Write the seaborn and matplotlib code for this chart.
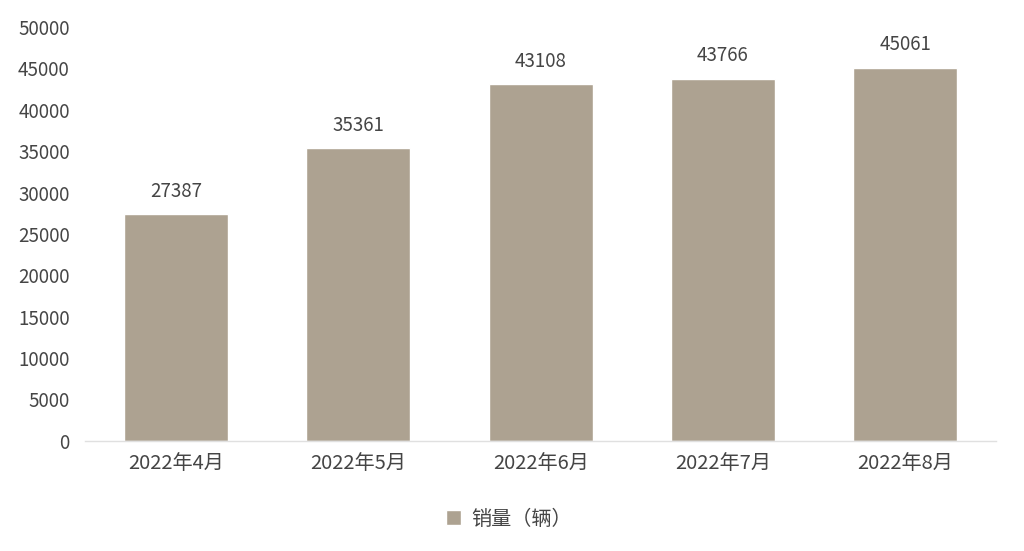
import matplotlib
matplotlib.use('Agg')
import matplotlib.pyplot as plt
import seaborn as sns
import pandas as pd

# 数据
months = ['2022年4月', '2022年5月', '2022年6月', '2022年7月', '2022年8月']
sales = [27387, 35361, 43108, 43766, 45061]
series_name = '销量（辆）'
yticks = list(range(0, 50001, 5000))

sns.set_style('white')
plt.rcParams['font.family'] = ['Noto Sans CJK SC', 'DejaVu Sans']

df = pd.DataFrame({'month': months, 'sales': sales, 'series': series_name})

fig = plt.figure(figsize=(10.24, 5.51), dpi=100)
ax = fig.add_axes([0.083, 0.2, 0.89, 0.751])

bar_color = '#ada291'
text_color = '#454545'

sns.barplot(data=df, x='month', y='sales', hue='series', palette=[bar_color],
            width=0.57, saturation=1, ax=ax, legend=True)

for i, v in enumerate(sales):
    ax.text(i, v + 1500, str(v), ha='center', va='bottom', fontsize=13.5, color=text_color)

ax.set_ylim(0, 50000)
ax.set_yticks(yticks)
ax.set_yticklabels([str(t) for t in yticks])
ax.set_xlim(-0.5, 4.5)
ax.set_xlabel('')
ax.set_ylabel('')
ax.tick_params(axis='both', length=0, labelcolor=text_color)
ax.tick_params(axis='x', pad=9, labelsize=14.5)
ax.tick_params(axis='y', pad=11, labelsize=13.5)

for s in ['top', 'right', 'left']:
    ax.spines[s].set_visible(False)
ax.spines['bottom'].set_color('#e0e0e0')
ax.spines['bottom'].set_linewidth(1)

leg = ax.legend(loc='upper center', bbox_to_anchor=(0.465, -0.12), frameon=False,
                fontsize=14.5, handlelength=0.75, handleheight=0.75, handletextpad=0.5)
for t in leg.get_texts():
    t.set_color(text_color)

fig.savefig('out.png', dpi=100)
